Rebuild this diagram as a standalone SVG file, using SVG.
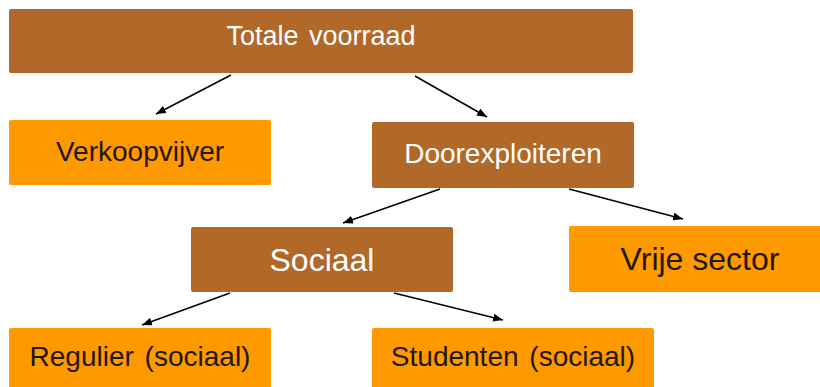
<svg xmlns="http://www.w3.org/2000/svg" width="820" height="387" viewBox="0 0 820 387">
<defs>
<style>
.brown{fill:#B1692A}
.orange{fill:#FF9900}
.tw{fill:#FFFFFF;font-family:"Liberation Sans",Arial,sans-serif;text-anchor:middle}
.td{fill:#22180A;font-family:"Liberation Sans",Arial,sans-serif;text-anchor:middle}
.conn{stroke:#000;stroke-width:1.5;fill:none;marker-end:url(#ah)}
</style>
<marker id="ah" markerWidth="10" markerHeight="8" refX="10" refY="4" orient="auto" markerUnits="userSpaceOnUse">
<path d="M0,0 L10,4 L0,8 Z" fill="#000"/>
</marker>
</defs>
<rect width="820" height="387" fill="#FFFFFF"/>
<g id="connectors">
<line class="conn" x1="231" y1="75" x2="156" y2="114"/>
<line class="conn" x1="415" y1="76" x2="487" y2="117"/>
<line class="conn" x1="440" y1="189" x2="343" y2="223"/>
<line class="conn" x1="569" y1="189" x2="683" y2="219"/>
<line class="conn" x1="230" y1="293" x2="142" y2="325"/>
<line class="conn" x1="394" y1="293" x2="503" y2="320"/>
</g>
<g id="totale">
<rect class="brown" x="9" y="9" width="624" height="64" rx="2"/>
<text class="tw" x="321" y="45" font-size="27" word-spacing="3">Totale voorraad</text>
</g>
<g id="verkoopvijver">
<rect class="orange" x="9" y="120" width="262" height="65" rx="2"/>
<text class="td" x="140" y="161" font-size="28">Verkoopvijver</text>
</g>
<g id="doorexploiteren">
<rect class="brown" x="372" y="122" width="262" height="66" rx="2"/>
<text class="tw" x="503" y="163" font-size="28">Doorexploiteren</text>
</g>
<g id="sociaal">
<rect class="brown" x="191" y="227" width="262" height="65" rx="2"/>
<text class="tw" x="322" y="271" font-size="32">Sociaal</text>
</g>
<g id="vrije">
<rect class="orange" x="569" y="226" width="262" height="66" rx="2"/>
<text class="td" x="700" y="270" font-size="32">Vrije sector</text>
</g>
<g id="regulier">
<rect class="orange" x="9" y="328" width="262" height="66" rx="2"/>
<text class="td" x="140" y="366" font-size="28" word-spacing="3">Regulier (sociaal)</text>
</g>
<g id="studenten">
<rect class="orange" x="372" y="328" width="282" height="66" rx="2"/>
<text class="td" x="513" y="366" font-size="28" word-spacing="3">Studenten (sociaal)</text>
</g>
</svg>
